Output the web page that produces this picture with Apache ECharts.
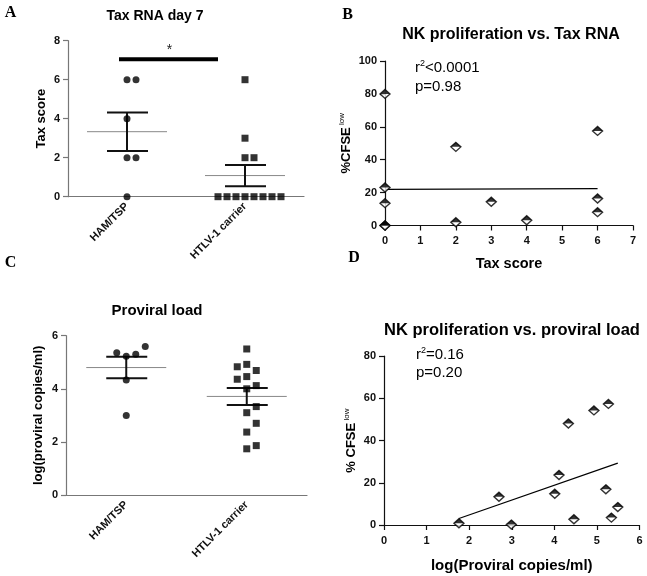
<!DOCTYPE html>
<html>
<head>
<meta charset="utf-8">
<script src="https://cdn.jsdelivr.net/npm/echarts@6/dist/echarts.min.js"></script>
<style>
  html, body { margin: 0; padding: 0; background: #fff; }
  #chart { width: 647px; height: 576px; }
</style>
</head>
<body>
<div id="chart"></div>
<script>
// ---------------- data ----------------
const groupLabels = ['HAM/TSP', 'HTLV-1 carrier'];

// Panel A: Tax score at day 7
const taxHam = [6, 6, 4, 2, 2, 0];
const taxCarrier = [6, 3, 2, 2, 0, 0, 0, 0, 0, 0, 0, 0];
const sigBarValue = 7.05;
const sigMark = '*';

// Panel C: log proviral load
const pvlHam = [5.36, 5.23, 5.30, 5.59, 4.33, 2.99];
const pvlCarrier = [5.50, 4.92, 4.83, 4.69, 4.46, 4.36, 4.12, 4.00, 3.33, 3.10, 2.70, 2.37, 1.86, 1.74];

// Panel B: NK proliferation vs Tax score
const taxScoreB = [0, 0, 0, 0, 0, 2, 2, 3, 4, 6, 6, 6];
const cfseB = [80, 23.1, 13.6, 0, 0, 47.8, 2.0, 14.4, 3.2, 57.5, 16.4, 8.1];
const statsB = ['<0.0001', '0.98'];

// Panel D: NK proliferation vs proviral load
const pvlD = [1.76, 2.70, 2.99, 4.33, 4.01, 4.11, 4.46, 4.93, 5.27, 5.21, 5.34, 5.49];
const cfseD = [0.8, 13.4, 0.2, 48.1, 14.8, 23.7, 2.7, 54.3, 57.4, 16.9, 3.5, 8.5];
const statsD = ['=0.16', '0.20'];

// ---------------- helpers ----------------
function mean(a) { return a.reduce((s, v) => s + v, 0) / a.length; }
function sem(a) {
  const m = mean(a);
  const v = a.reduce((s, x) => s + (x - m) * (x - m), 0) / (a.length - 1);
  return Math.sqrt(v / a.length);
}
function swarm(values, cat, thr, step) {
  const idx = values.map((v, i) => i).sort((a, b) => values[a] - values[b]);
  const slots = new Array(values.length);
  const order = [0, 1, -1, 2, -2, 3, -3, 4, -4, 5, -5];
  idx.forEach(i => {
    for (const s of order) {
      const ok = idx.every(j => slots[j] === undefined || slots[j] !== s || Math.abs(values[j] - values[i]) >= thr);
      if (ok) { slots[i] = s; break; }
    }
  });
  return values.map((v, i) => ({ value: [cat, v], symbolOffset: [slots[i] * step, 0] }));
}
function linreg(xs, ys) {
  const mx = mean(xs), my = mean(ys);
  let sxy = 0, sxx = 0;
  xs.forEach((x, i) => { sxy += (x - mx) * (ys[i] - my); sxx += (x - mx) * (x - mx); });
  const b = sxy / sxx, a = my - b * mx;
  const x0 = Math.min(...xs), x1 = Math.max(...xs);
  return [[x0, a + b * x0], [x1, a + b * x1]];
}
function zip(xs, ys) { return xs.map((x, i) => [x, ys[i]]); }

const FONT = 'Liberation Sans, Arial, sans-serif';
const SERIF = 'Liberation Serif, Times New Roman, serif';
const greyAxis = '#777';
const blackAxis = '#111';

function catXAxis(grid) {
  return {
    type: 'category', gridIndex: grid, data: groupLabels, boundaryGap: true,
    axisLine: { lineStyle: { color: greyAxis, width: 1.2 } },
    axisTick: { alignWithLabel: true, length: 5, lineStyle: { color: greyAxis, width: 1.2 } },
    axisLabel: { rotate: 45, fontFamily: FONT, fontWeight: 'bold', fontSize: 11, color: '#111', margin: 8 },
    splitLine: { show: false }
  };
}
function valAxis(grid, min, max, interval, color, extra) {
  return Object.assign({
    type: 'value', gridIndex: grid, min: min, max: max, interval: interval,
    axisLine: { show: true, onZero: false, lineStyle: { color: color, width: 1.2 } },
    axisTick: { show: true, length: 5, lineStyle: { color: color, width: 1.2 } },
    axisLabel: { fontFamily: FONT, fontWeight: 'bold', fontSize: 11, color: '#111', margin: 8 },
    splitLine: { show: false }
  }, extra || {});
}

function meanSemSeries(xi, yi, groups) {
  const data = groups.map((g, i) => [i, mean(g), sem(g)]);
  return {
    type: 'custom', xAxisIndex: xi, yAxisIndex: yi, data: data, z: 1, silent: true,
    encode: { x: 0, y: 1 },
    renderItem: function (params, api) {
      const c = api.coord([api.value(0), api.value(1)]);
      const hi = api.coord([api.value(0), api.value(1) + api.value(2)]);
      const lo = api.coord([api.value(0), api.value(1) - api.value(2)]);
      const thin = { stroke: '#888', lineWidth: 1 };
      const thick = { stroke: '#111', lineWidth: 2 };
      return {
        type: 'group', children: [
          { type: 'line', shape: { x1: c[0] - 40, y1: c[1], x2: c[0] + 40, y2: c[1] }, style: thin },
          { type: 'line', shape: { x1: c[0] - 20, y1: hi[1], x2: c[0] + 21, y2: hi[1] }, style: thick },
          { type: 'line', shape: { x1: c[0] - 20, y1: lo[1], x2: c[0] + 21, y2: lo[1] }, style: thick },
          { type: 'line', shape: { x1: c[0], y1: hi[1], x2: c[0], y2: lo[1] }, style: thick }
        ]
      };
    }
  };
}

function diamondSeries(xi, yi, data) {
  return [
    { type: 'scatter', xAxisIndex: xi, yAxisIndex: yi, data: data, symbol: 'diamond', symbolSize: [10, 9],
      itemStyle: { color: '#fff', borderColor: '#000', borderWidth: 1.4 }, z: 3, silent: true },
    { type: 'scatter', xAxisIndex: xi, yAxisIndex: yi, data: data, symbol: 'path://M0,10 L10,0 L20,10 Z',
      symbolSize: [10, 4.5], symbolOffset: [0, -2.25], itemStyle: { color: '#000' }, z: 4, silent: true }
  ];
}
function regSeries(xi, yi, xs, ys) {
  return { type: 'line', xAxisIndex: xi, yAxisIndex: yi, data: linreg(xs, ys), showSymbol: false, symbol: 'none',
    lineStyle: { color: '#000', width: 1.2 }, z: 2, silent: true };
}

function txt(x, y, text, font, align, extra) {
  return { type: 'text', x: x, y: y, silent: true,
    style: Object.assign({ text: text, font: font, fill: '#000', align: align || 'center', verticalAlign: 'middle' }, extra || {}) };
}
const statRich = {
  n: { fontFamily: FONT, fontSize: 15, color: '#000', lineHeight: 17 },
  s: { fontFamily: FONT, fontSize: 9, color: '#000', verticalAlign: 'top' }
};

const chart = echarts.init(document.getElementById('chart'), null, { renderer: 'canvas' });
chart.setOption({
  animation: false,
  backgroundColor: '#fff',
  grid: [
    { left: 68, top: 40.7, width: 236, height: 156, containLabel: false, outerBoundsMode: 'none' },
    { left: 385, top: 61, width: 248, height: 164.5, containLabel: false, outerBoundsMode: 'none' },
    { left: 66, top: 335.7, width: 241, height: 159.3, containLabel: false, outerBoundsMode: 'none' },
    { left: 384, top: 356.2, width: 255.5, height: 168.8, containLabel: false, outerBoundsMode: 'none' }
  ],
  xAxis: [
    catXAxis(0),
    valAxis(1, 0, 7, 1, blackAxis, { name: 'Tax score', nameLocation: 'middle', nameGap: 31,
      nameTextStyle: { fontFamily: FONT, fontWeight: 'bold', fontSize: 14.5, color: '#000' },
      axisLabel: { fontFamily: FONT, fontWeight: 'bold', fontSize: 11, color: '#111', margin: 10 } }),
    catXAxis(2),
    valAxis(3, 0, 6, 1, blackAxis, { name: 'log(Proviral copies/ml)', nameLocation: 'middle', nameGap: 33,
      nameTextStyle: { fontFamily: FONT, fontWeight: 'bold', fontSize: 15, color: '#000' },
      axisLabel: { fontFamily: FONT, fontWeight: 'bold', fontSize: 11, color: '#111', margin: 10 } })
  ],
  yAxis: [
    valAxis(0, 0, 8, 2, greyAxis, { name: 'Tax score', nameLocation: 'middle', nameGap: 20,
      nameTextStyle: { fontFamily: FONT, fontWeight: 'bold', fontSize: 13, color: '#000' } }),
    valAxis(1, 0, 100, 20, blackAxis, { name: '{a|%CFSE}{b| low}', nameLocation: 'middle', nameGap: 31,
      nameTextStyle: { rich: {
        a: { fontFamily: FONT, fontWeight: 'bold', fontSize: 13, color: '#000', lineHeight: 16 },
        b: { fontFamily: FONT, fontSize: 8, color: '#000', verticalAlign: 'top' } } } }),
    valAxis(2, 0, 6, 2, greyAxis, { name: 'log(proviral copies/ml)', nameLocation: 'middle', nameGap: 21,
      nameTextStyle: { fontFamily: FONT, fontWeight: 'bold', fontSize: 13, color: '#000' } }),
    valAxis(3, 0, 80, 20, blackAxis, { name: '{a|% CFSE}{b| low}', nameLocation: 'middle', nameGap: 25,
      nameTextStyle: { rich: {
        a: { fontFamily: FONT, fontWeight: 'bold', fontSize: 13, color: '#000', lineHeight: 16 },
        b: { fontFamily: FONT, fontSize: 8, color: '#000', verticalAlign: 'top' } } } })
  ],
  series: [
    // Panel A
    meanSemSeries(0, 0, [taxHam, taxCarrier]),
    { type: 'scatter', xAxisIndex: 0, yAxisIndex: 0, data: swarm(taxHam, 0, 0.4, 9), symbol: 'circle', symbolSize: 7,
      itemStyle: { color: '#000' }, z: 3, silent: true },
    { type: 'scatter', xAxisIndex: 0, yAxisIndex: 0, data: swarm(taxCarrier, 1, 0.4, 9), symbol: 'rect', symbolSize: 7,
      itemStyle: { color: '#000' }, z: 3, silent: true },
    { type: 'custom', xAxisIndex: 0, yAxisIndex: 0, data: [[0, 1, sigBarValue]], encode: { x: [0, 1], y: 2 }, silent: true,
      renderItem: function (params, api) {
        const p0 = api.coord([api.value(0), api.value(2)]);
        const p1 = api.coord([api.value(1), api.value(2)]);
        const x0 = p0[0] - 8, x1 = p1[0] - 27;
        return { type: 'group', children: [
          { type: 'line', shape: { x1: x0, y1: p0[1], x2: x1, y2: p0[1] }, style: { stroke: '#000', lineWidth: 4 } },
          { type: 'text', style: { x: (x0 + x1) / 2 + 1, y: p0[1] - 9, text: sigMark, font: '14px ' + FONT, fill: '#222', align: 'center', verticalAlign: 'middle' } }
        ] };
      } },
    // Panel B
    regSeries(1, 1, taxScoreB, cfseB),
    ...diamondSeries(1, 1, zip(taxScoreB, cfseB)),
    // Panel C
    meanSemSeries(2, 2, [pvlHam, pvlCarrier]),
    { type: 'scatter', xAxisIndex: 2, yAxisIndex: 2, data: swarm(pvlHam, 0, 0.4, 9.5), symbol: 'circle', symbolSize: 7,
      itemStyle: { color: '#000' }, z: 3, silent: true },
    { type: 'scatter', xAxisIndex: 2, yAxisIndex: 2, data: swarm(pvlCarrier, 1, 0.4, 9.5), symbol: 'rect', symbolSize: 7,
      itemStyle: { color: '#000' }, z: 3, silent: true },
    // Panel D
    regSeries(3, 3, pvlD, cfseD),
    ...diamondSeries(3, 3, zip(pvlD, cfseD))
  ],
  graphic: [
    txt(10.5, 12.5, 'A', 'bold 16px ' + SERIF),
    txt(347.5, 15, 'B', 'bold 16px ' + SERIF),
    txt(10.5, 262.5, 'C', 'bold 16px ' + SERIF),
    txt(354, 258, 'D', 'bold 16px ' + SERIF),
    txt(155, 16, 'Tax RNA day 7', 'bold 14px ' + FONT),
    txt(511, 35, 'NK proliferation vs. Tax RNA', 'bold 16px ' + FONT),
    txt(157, 311, 'Proviral load', 'bold 15px ' + FONT),
    txt(512, 330, 'NK proliferation vs. proviral load', 'bold 16.5px ' + FONT),
    txt(415, 68, '{n|r}{s|2}{n|' + statsB[0] + '}', null, 'left', { rich: statRich }),
    txt(415, 87, '{n|p=' + statsB[1] + '}', null, 'left', { rich: statRich }),
    txt(416, 355, '{n|r}{s|2}{n|' + statsD[0] + '}', null, 'left', { rich: statRich }),
    txt(416, 373, '{n|p=' + statsD[1] + '}', null, 'left', { rich: statRich })
  ]
});
</script>
</body>
</html>
